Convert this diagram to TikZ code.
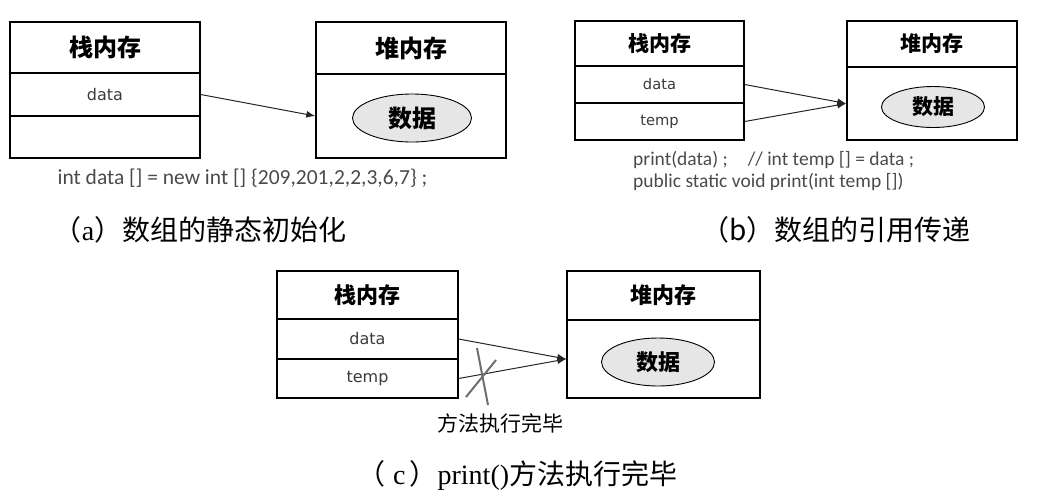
\documentclass[tikz,border=0pt]{standalone}
\usepackage{fontspec}
\setmainfont{Liberation Serif}
\newfontfamily\cjk{Noto Sans CJK SC}
\newfontfamily\codefont{Carlito}
\newfontfamily\varfont{DejaVu Sans}
\usetikzlibrary{shapes.geometric,arrows.meta}
\definecolor{txtgray}{HTML}{3A3A3A}
\definecolor{codegray}{HTML}{4A4A4A}
\definecolor{ellfill}{HTML}{E6E6E6}
\definecolor{crossgray}{HTML}{6E6E6E}
\tikzset{
  memcell/.style={draw=black, line width=1.4pt, rectangle, inner sep=0pt, anchor=center},
  hdrcell/.style={memcell, font={\cjk\bfseries\fontsize{#1}{#1}\selectfont}},
  varcell/.style={memcell, text=txtgray, font={\varfont\fontsize{#1}{#1}\selectfont}},
  datablob/.style={ellipse, draw=black, line width=0.9pt, fill=ellfill, inner sep=0pt,
    font={\cjk\bfseries\fontsize{#1}{#1}\selectfont}},
  refarrow/.style={draw=black!85, line width=1pt, -{Latex[length=9pt,width=7pt]}},
  codetext/.style={text=codegray, inner sep=0pt, font={\codefont\fontsize{#1}{#1}\selectfont}},
  captext/.style={inner sep=0pt, font={\cjk\fontsize{28}{28}\selectfont}},
  notetext/.style={inner sep=0pt, font={\cjk\fontsize{21}{21}\selectfont}},
  crossline/.style={draw=crossgray, line width=2pt},
}
\begin{document}
\begin{tikzpicture}[x=1pt,y=-1pt]
\useasboundingbox (0,0) rectangle (1040,499);
% ---------------- (a) ----------------
\node[hdrcell=24, minimum width=190pt, minimum height=51pt] (ahead) at (105,47.5) {栈内存};
\node[varcell=16, minimum width=190pt, minimum height=43pt] (adata) at (105,94.5) {data};
\node[memcell, minimum width=190pt, minimum height=42pt] (aempty) at (105,137) {};
\node[hdrcell=24, minimum width=190pt, minimum height=52pt] (aheap) at (411,48) {堆内存};
\node[memcell, minimum width=190pt, minimum height=84pt] (abody) at (411,116) {};
\node[datablob=24, minimum width=119pt, minimum height=48pt] (aell) at (412,118) {数据};
\draw[refarrow] (adata.east) -- (abody.west);
\node[codetext=21.5] (acode) at (242.5,178) {int data [] = new int [] \{209,201,2,2,3,6,7\} ;};
\node[captext] (acap) at (200,230) {（{\rmfamily a}）数组的静态初始化};
% ---------------- (b) ----------------
\node[hdrcell=21, minimum width=169pt, minimum height=45pt] (bhead) at (659.5,43.5) {栈内存};
\node[varcell=14.7, minimum width=169pt, minimum height=37pt] (bdata) at (659.5,84.5) {data};
\node[varcell=14.7, minimum width=169pt, minimum height=37pt] (btemp) at (659.5,121.5) {temp};
\node[hdrcell=21, minimum width=170pt, minimum height=46pt] (bheap) at (932,44) {堆内存};
\node[memcell, minimum width=170pt, minimum height=73pt] (bbody) at (932,103.5) {};
\node[datablob=21, minimum width=103pt, minimum height=41pt] (bell) at (933,107) {数据};
\draw[refarrow] (bdata.east) -- (bbody.west);
\draw[refarrow] (btemp.east) -- (bbody.west);
\node[codetext=19.5, anchor=west] (bcode1) at (633,160) {print(data) ;\hspace*{20pt}// int temp [] = data ;};
\node[codetext=19.5, anchor=west] (bcode2) at (633,182) {public static void print(int temp [])};
\node[captext] (bcap) at (836,230) {（b）数组的引用传递};
% ---------------- (c) ----------------
\node[hdrcell=22, minimum width=181pt, minimum height=48pt] (chead) at (367.5,295) {栈内存};
\node[varcell=16, minimum width=181pt, minimum height=40pt] (cdata) at (367.5,339) {data};
\node[varcell=16, minimum width=181pt, minimum height=39pt] (ctemp) at (367.5,378.5) {temp};
\node[hdrcell=22, minimum width=193pt, minimum height=49pt] (cheap) at (663.5,295.5) {堆内存};
\node[memcell, minimum width=193pt, minimum height=78pt] (cbody) at (663.5,359) {};
\node[datablob=22, minimum width=113pt, minimum height=48pt] (cellp) at (658,362) {数据};
\draw[refarrow] (cdata.east) -- (cbody.west);
\draw[refarrow] (ctemp.east) -- (cbody.west);
\coordinate (xa1) at (477,348);
\coordinate (xa2) at (488,405);
\coordinate (xb1) at (496,360);
\coordinate (xb2) at (466,397);
\draw[crossline] (xa1) -- (xa2);
\draw[crossline] (xb1) -- (xb2);
\node[notetext] (cnote) at (500,423) {方法执行完毕};
\node[captext, anchor=west] (ccap) at (357,475) {（\hspace{8pt}{\rmfamily c}\hspace{4pt}）{\rmfamily print()}方法执行完毕};
\end{tikzpicture}
\end{document}
